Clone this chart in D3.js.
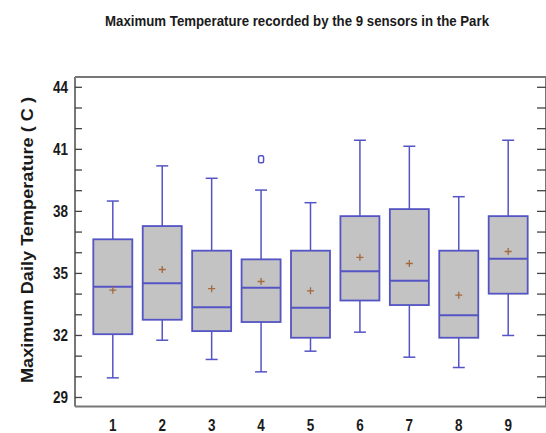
<!DOCTYPE html>
<html>
<head>
<meta charset="utf-8">
<script src="https://cdn.jsdelivr.net/npm/d3@7"></script>
<style>
  html, body { margin: 0; padding: 0; background: #fff; }
  svg { display: block; }
  text { font-family: "Liberation Sans", Arial, sans-serif; font-weight: bold; fill: #1a1a1a; }
</style>
</head>
<body>
<svg id="chart" width="546" height="433"></svg>
<script>
// Sensor ids and box-plot statistics (degrees C)
const sensors   = ["1", "2", "3", "4", "5", "6", "7", "8", "9"];
const whiskLow  = [29.95, 31.77, 30.84, 30.24, 31.24, 32.16, 30.95, 30.45, 32.0];
const q1        = [32.06, 32.76, 32.21, 32.65, 31.89, 33.69, 33.47, 31.89, 34.02];
const median    = [34.35, 34.52, 33.37, 34.31, 33.34, 35.10, 34.64, 32.98, 35.71];
const q3        = [36.65, 37.29, 36.10, 35.68, 36.10, 37.77, 38.11, 36.10, 37.77];
const whiskHigh = [38.50, 40.20, 39.60, 39.03, 38.42, 41.44, 41.15, 38.71, 41.44];
const mean      = [34.19, 35.19, 34.26, 34.61, 34.16, 35.78, 35.48, 33.95, 36.06];
const outliers  = [{ sensor: "4", value: 40.52 }];
const yTicks    = [29, 32, 35, 38, 41, 44];
const yMinor    = d3.range(29, 45);

const svg = d3.select("#chart");
const plotL = 75, plotR = 546, plotT = 77, plotB = 406.5;

const y = d3.scaleLinear().domain([29, 44]).range([397.5, 87.3]);
const x = d3.scalePoint().domain(sensors).range([plotL, plotR]).padding(0.765);

const boxW = 39, capW = 12;
const stroke = "#5454c4";

// title
svg.append("text")
  .attr("x", 297).attr("y", 25.5)
  .attr("text-anchor", "middle")
  .attr("textLength", 384).attr("lengthAdjust", "spacingAndGlyphs")
  .style("font-size", "14.5px")
  .text("Maximum Temperature recorded by the 9 sensors in the Park");

// y axis title (condensed)
svg.append("text")
  .attr("transform", `translate(32.5,240) rotate(-90)`)
  .attr("text-anchor", "middle")
  .attr("textLength", 286).attr("lengthAdjust", "spacingAndGlyphs")
  .style("font-size", "17px")
  .text("Maximum Daily Temperature ( C )");

// frame
svg.append("line").attr("x1", plotL).attr("x2", plotR).attr("y1", plotT).attr("y2", plotT)
  .attr("stroke", "#777").attr("stroke-width", 2);
svg.append("line").attr("x1", plotL).attr("x2", plotR).attr("y1", plotB).attr("y2", plotB)
  .attr("stroke", "#777").attr("stroke-width", 2);
svg.append("line").attr("x1", plotL).attr("x2", plotL).attr("y1", plotT).attr("y2", plotB)
  .attr("stroke", "#777").attr("stroke-width", 2);
svg.append("line").attr("x1", plotR).attr("x2", plotR).attr("y1", plotT).attr("y2", plotB)
  .attr("stroke", "#777").attr("stroke-width", 2);

// inward ticks on both sides
const tickG = svg.append("g");
tickG.selectAll(".tl").data(yMinor).join("line")
  .attr("x1", plotL).attr("x2", plotL + 7)
  .attr("y1", d => y(d)).attr("y2", d => y(d))
  .attr("stroke", "#444").attr("stroke-width", 1.3);
tickG.selectAll(".tr").data(yMinor).join("line")
  .attr("x1", plotR - 9).attr("x2", plotR)
  .attr("y1", d => y(d)).attr("y2", d => y(d))
  .attr("stroke", "#444").attr("stroke-width", 1.3);

// y tick labels (condensed digits)
svg.selectAll(".ylab").data(yTicks).join("text")
  .attr("x", 68).attr("y", d => y(d) + 5.7)
  .attr("text-anchor", "end")
  .attr("textLength", 15).attr("lengthAdjust", "spacingAndGlyphs")
  .style("font-size", "16px")
  .text(d => d);

// x tick labels (condensed digits)
svg.selectAll(".xlab").data(sensors).join("text")
  .attr("x", d => x(d)).attr("y", 430.5)
  .attr("text-anchor", "middle")
  .attr("textLength", 7.5).attr("lengthAdjust", "spacingAndGlyphs")
  .style("font-size", "17px")
  .text(d => d);

// boxes
const stats = sensors.map((s, i) => ({
  s, lo: whiskLow[i], q1: q1[i], med: median[i], q3: q3[i], hi: whiskHigh[i], mean: mean[i]
}));

const g = svg.selectAll(".box").data(stats).join("g");

// whiskers
g.append("line")
  .attr("x1", d => x(d.s)).attr("x2", d => x(d.s))
  .attr("y1", d => y(d.hi)).attr("y2", d => y(d.q3))
  .attr("stroke", stroke).attr("stroke-width", 1.5);
g.append("line")
  .attr("x1", d => x(d.s)).attr("x2", d => x(d.s))
  .attr("y1", d => y(d.q1)).attr("y2", d => y(d.lo))
  .attr("stroke", stroke).attr("stroke-width", 1.5);
g.append("line")
  .attr("x1", d => x(d.s) - capW / 2).attr("x2", d => x(d.s) + capW / 2)
  .attr("y1", d => y(d.hi)).attr("y2", d => y(d.hi))
  .attr("stroke", stroke).attr("stroke-width", 1.5);
g.append("line")
  .attr("x1", d => x(d.s) - capW / 2).attr("x2", d => x(d.s) + capW / 2)
  .attr("y1", d => y(d.lo)).attr("y2", d => y(d.lo))
  .attr("stroke", stroke).attr("stroke-width", 1.5);

// box body
g.append("rect")
  .attr("x", d => x(d.s) - boxW / 2)
  .attr("width", boxW)
  .attr("y", d => y(d.q3))
  .attr("height", d => y(d.q1) - y(d.q3))
  .attr("fill", "#c3c3c3")
  .attr("stroke", stroke).attr("stroke-width", 1.8);

// median
g.append("line")
  .attr("x1", d => x(d.s) - boxW / 2).attr("x2", d => x(d.s) + boxW / 2)
  .attr("y1", d => y(d.med)).attr("y2", d => y(d.med))
  .attr("stroke", stroke).attr("stroke-width", 2);

// mean marker
const plus = 3.5;
g.append("path")
  .attr("d", d => {
    const cx = x(d.s), cy = y(d.mean);
    return `M${cx - plus},${cy}H${cx + plus}M${cx},${cy - plus}V${cy + plus}`;
  })
  .attr("stroke", "#a4683c").attr("stroke-width", 1.3);

// outliers
svg.selectAll(".out").data(outliers).join("rect")
  .attr("x", d => x(d.sensor) - 2.5).attr("y", d => y(d.value) - 3.5)
  .attr("width", 5).attr("height", 7).attr("rx", 1.5)
  .attr("fill", "#fff").attr("stroke", stroke).attr("stroke-width", 1.5);
</script>
</body>
</html>
